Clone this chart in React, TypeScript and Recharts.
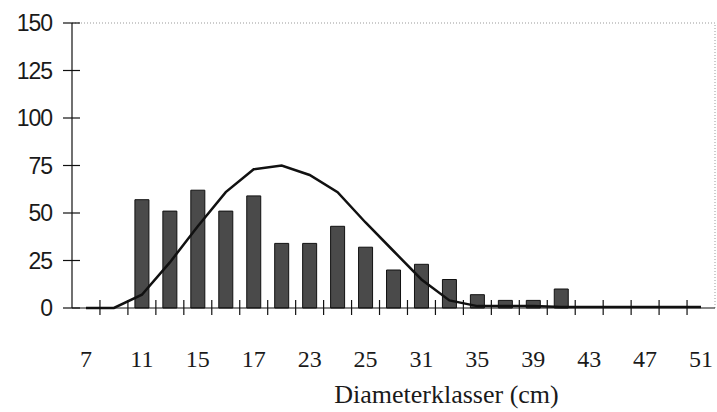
import React from 'react';
import {
    ComposedChart,
    Bar,
    Line,
    XAxis,
    YAxis,
    ReferenceLine,
} from 'recharts';

// diameter classes (cm)
const classes = [
    '7', '9', '11', '13', '15', '17', '19', '21', '23', '25', '27', '29',
    '31', '33', '35', '37', '39', '41', '43', '45', '47', '49', '51',
];
// observed trees per class
const counts = [0, 0, 57, 51, 62, 51, 59, 34, 34, 43, 32, 20, 23, 15, 7, 4, 4, 10, 0, 0, 0, 0, 0];
// fitted distribution
const fitted = [0, 0, 7, 24, 43, 61, 73, 75, 70, 61, 45, 30, 15, 4, 1, 1, 1, 0.5, 0.5, 0.5, 0.5, 0.5, 0.5];
// labels printed under every second class
const tickLabels = ['7', '11', '15', '17', '23', '25', '31', '35', '39', '43', '47', '51'];
const yTicks = [0, 25, 50, 75, 100, 125, 150];

const data = classes.map((c, i) => ({ name: c, count: counts[i], fit: fitted[i] }));

const Y_MARGIN = 20;

const YTick = (props: any) => {
    const { x, y, payload } = props;
    const axisX = x + Y_MARGIN;
    return (
        <g>
            <line x1={axisX - 9} x2={axisX + 8} y1={y} y2={y} stroke="#111" strokeWidth={1.2} />
            <text
                x={x}
                y={y}
                dy="0.36em"
                textAnchor="end"
                fontFamily="'Liberation Sans', Arial, sans-serif"
                fontSize={23}
                fill="#1a1a1a"
                letterSpacing={-1}
            >
                {payload.value}
            </text>
        </g>
    );
};

const XTick = (props: any) => {
    const { x, y, payload } = props;
    const i = payload.index ?? props.index;
    const half = payload.offset || 13.98;
    const left = x - half;
    const label = i % 2 === 0 ? tickLabels[i / 2] : null;
    return (
        <g>
            {i > 0 && <line x1={left} x2={left} y1={y - 8} y2={y + 7} stroke="#111" strokeWidth={1.2} />}
            {label && (
                <text
                    x={x}
                    y={y + 59}
                    textAnchor="middle"
                    fontFamily="'Liberation Serif', 'Times New Roman', serif"
                    fontSize={24}
                    fill="#1a1a1a"
                >
                    {label}
                </text>
            )}
        </g>
    );
};

const AxisTitle = (props: any) => {
    const vb = props.viewBox || { x: 72, y: 308, width: 643 };
    return (
        <text
            x={vb.x + vb.width / 2 + 53}
            y={vb.y + 95}
            textAnchor="middle"
            fontFamily="'Liberation Serif', 'Times New Roman', serif"
            fontSize={26}
            fill="#1a1a1a"
        >
            Diameterklasser (cm)
        </text>
    );
};

export default function App() {
    return (
        <div style={{ width: 717, height: 412 }}>
            <style>{'body{margin:0;background:#fff}'}</style>
            <ComposedChart
                width={717}
                height={412}
                data={data}
                margin={{ top: 23, right: 2, left: 0, bottom: 0 }}
                barSize={14}
            >
                <XAxis
                    dataKey="name"
                    interval={0}
                    height={104}
                    tickSize={0}
                    tickMargin={0}
                    tick={<XTick />}
                    axisLine={{ stroke: '#111', strokeWidth: 1.2 }}
                    label={<AxisTitle />}
                />
                <YAxis
                    domain={[0, 150]}
                    ticks={yTicks}
                    width={72}
                    tickSize={0}
                    tickMargin={Y_MARGIN}
                    tick={<YTick />}
                    axisLine={{ stroke: '#111', strokeWidth: 1.2 }}
                />
                <ReferenceLine y={150} stroke="#999" strokeDasharray="1 2" />
                <ReferenceLine x="51" position="end" stroke="#999" strokeDasharray="1 2" />
                <Bar dataKey="count" fill="#4a4a4a" stroke="#111" strokeWidth={1} isAnimationActive={false} />
                <Line
                    dataKey="fit"
                    type="linear"
                    stroke="#111"
                    strokeWidth={2.5}
                    dot={false}
                    activeDot={false}
                    isAnimationActive={false}
                />
            </ComposedChart>
        </div>
    );
}
